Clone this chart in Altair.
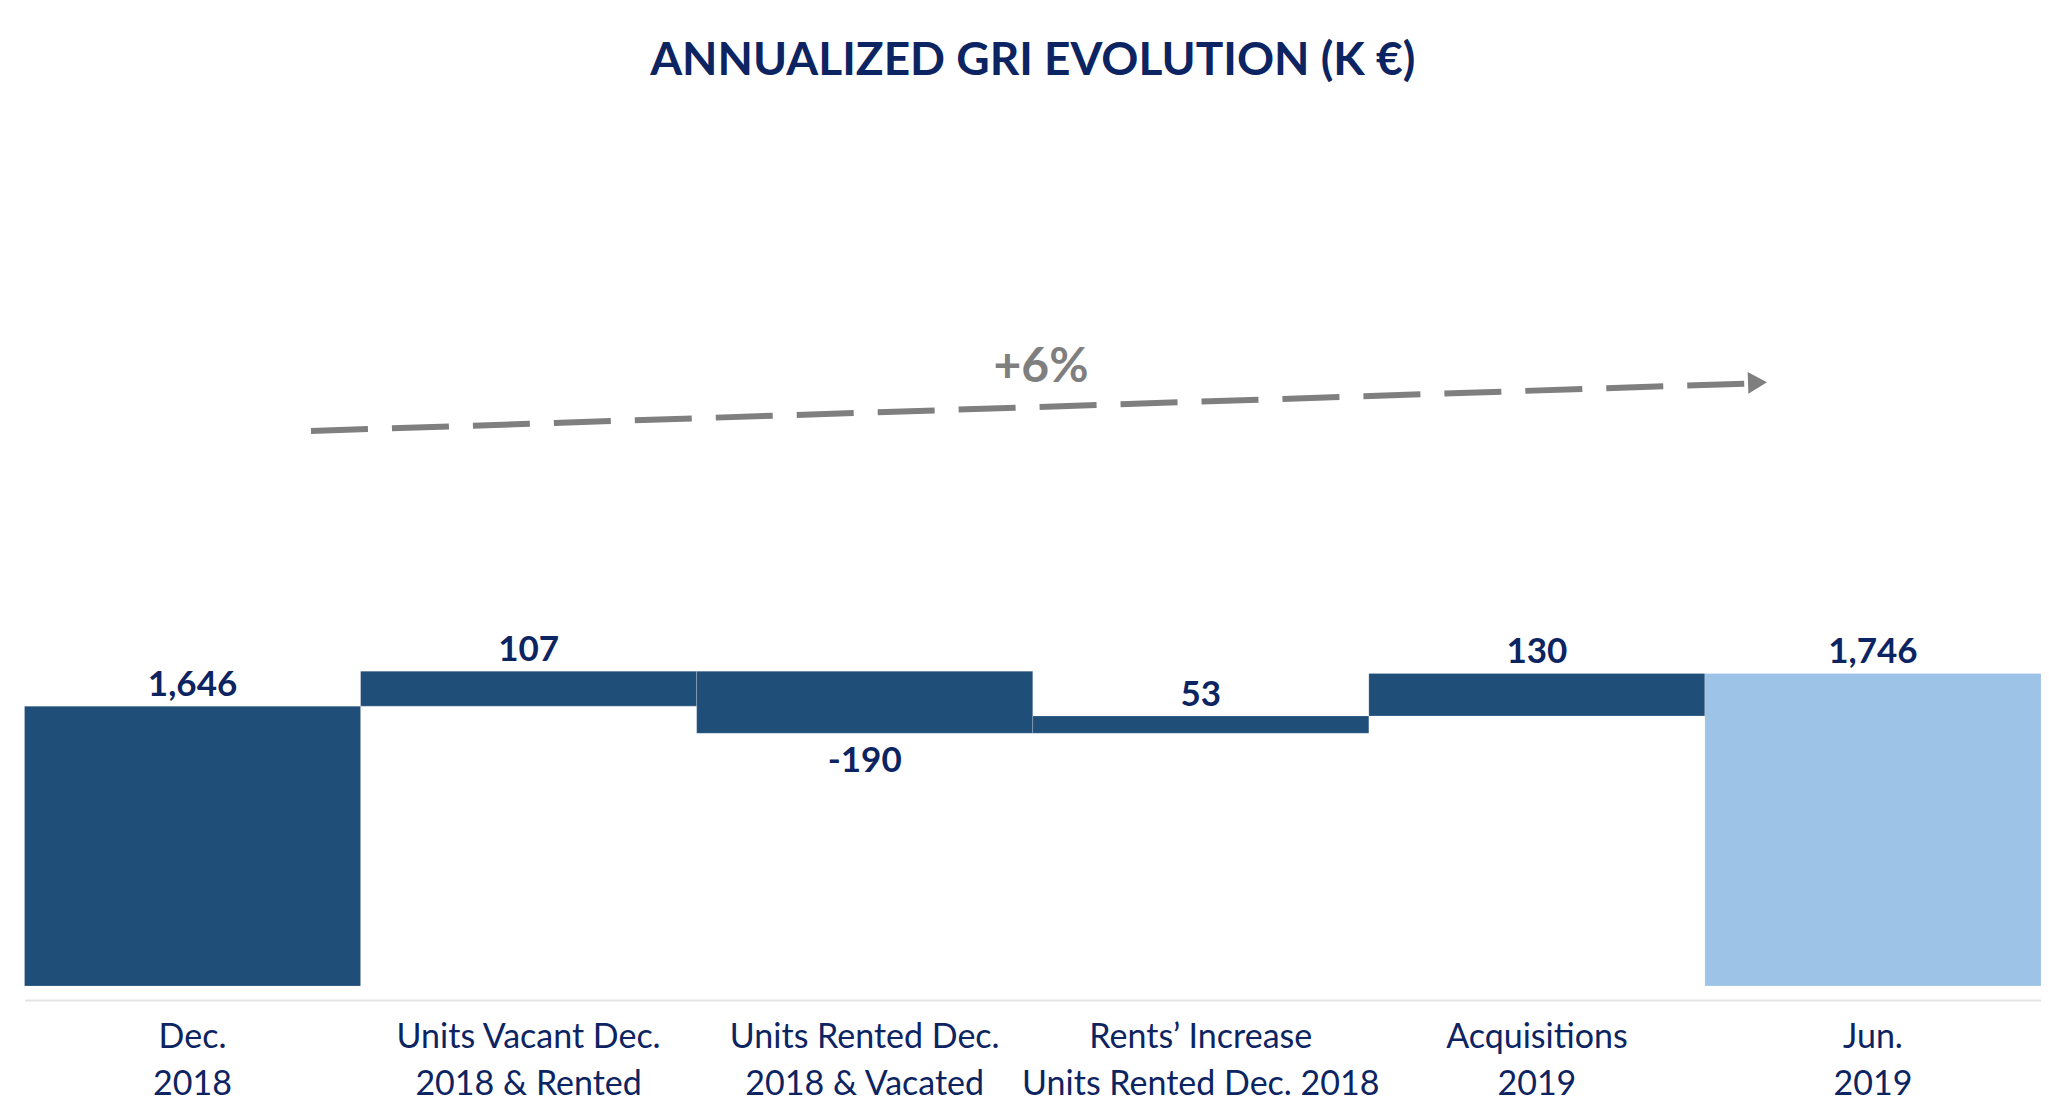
import altair as alt
import pandas as pd

# ---- data ----
CATEGORIES = [
    "Dec.\n2018",
    "Units Vacant Dec.\n2018 & Rented",
    "Units Rented Dec.\n2018 & Vacated",
    "Rents’ Increase\nUnits Rented Dec. 2018",
    "Acquisitions\n2019",
    "Jun.\n2019",
]
VALUES = [1646, 107, -190, 53, 130, 1746]
KINDS = ["total", "delta", "delta", "delta", "delta", "final"]
LABELS = ["1,646", "107", "-190", "53", "130", "1,746"]
TITLE = "ANNUALIZED GRI EVOLUTION (K €)"
TREND_LABEL = "+6%"

# ---- styling ----
NAVY = "#0d2462"
DARK = "#1f4e79"
LIGHT = "#9dc3e6"
GREY = "#7f7f7f"
FONT = "Lato"
Y_MIN, Y_MAX = 790, 3390

rows = []
running = 0
for cat, v, k, lab in zip(CATEGORIES, VALUES, KINDS, LABELS):
    if k in ("total", "final"):
        lo, hi = Y_MIN, v
        running = v
    else:
        lo, hi = running, running + v
        running = hi
    rows.append({"cat": cat, "value": v, "kind": k, "label": lab,
                 "bottom": min(lo, hi), "top": max(lo, hi)})
df = pd.DataFrame(rows)

x_enc = alt.X(
    "cat:N", sort=CATEGORIES,
    scale=alt.Scale(paddingInner=0, paddingOuter=0),
    axis=alt.Axis(
        title=None, labelAngle=0, labelExpr="split(datum.value, '\\n')",
        ticks=False, tickSize=0, domainColor="#e4e4e4", domainWidth=2,
        labelFont=FONT, labelFontSize=34, labelColor=NAVY, labelPadding=20,
        labelLineHeight=47, labelBaseline="top", offset=14, labelLimit=500,
        labelOverlap=False, grid=False,
    ),
)
y_scale = alt.Scale(domain=[Y_MIN, Y_MAX], zero=False, nice=False)

base = alt.Chart(df)

bars = base.mark_bar(stroke="#ffffff", strokeWidth=0.5, strokeOpacity=0.4).encode(
    x=x_enc,
    y=alt.Y("bottom:Q", scale=y_scale, axis=None),
    y2="top:Q",
    color=alt.Color("kind:N", scale=alt.Scale(domain=["total", "delta", "final"],
                                              range=[DARK, DARK, LIGHT]), legend=None),
)

pos_labels = base.transform_filter("datum.value >= 0").mark_text(
    font=FONT, fontSize=35, fontWeight="bold", color=NAVY,
    baseline="alphabetic", dy=-10,
).encode(x=alt.X("cat:N", sort=CATEGORIES), y=alt.Y("top:Q", scale=y_scale), text="label:N")

neg_labels = base.transform_filter("datum.value < 0").mark_text(
    font=FONT, fontSize=35, fontWeight="bold", color=NAVY,
    baseline="alphabetic", dy=39,
).encode(x=alt.X("cat:N", sort=CATEGORIES), y=alt.Y("bottom:Q", scale=y_scale), text="label:N")

anno = pd.DataFrame({"t": [TREND_LABEL]})
arrow_line = alt.Chart(anno).mark_rule(
    strokeDash=[57, 24], strokeWidth=6, color=GREY
).encode(x=alt.value(286.5), x2=alt.value(1724), y=alt.value(295), y2=alt.value(247.5))

arrow_head = alt.Chart(anno).mark_point(
    shape="triangle-right", filled=True, size=480, color=GREY, opacity=1, angle=358
).encode(x=alt.value(1733), y=alt.value(246.5))

trend_text = alt.Chart(anno).mark_text(
    font=FONT, fontSize=48, fontWeight="bold", color=GREY, baseline="middle", align="center"
).encode(x=alt.value(1016.5), y=alt.value(232), text="t:N")

chart = alt.layer(bars, pos_labels, neg_labels, arrow_line, arrow_head, trend_text).properties(
    width=2016.5, height=850,
    padding={"left": 16.5, "top": 128, "right": 0, "bottom": 116},
    autosize=alt.AutoSizeParams(type="none"),
    background="#ffffff",
    title=alt.TitleParams(
        TITLE, font=FONT, fontSize=46, fontWeight="bold", color=NAVY,
        anchor="middle", offset=15, baseline="alphabetic",
    ),
).configure_view(stroke=None)

chart.save("out.html", embed_options={"renderer": "svg", "actions": False})
